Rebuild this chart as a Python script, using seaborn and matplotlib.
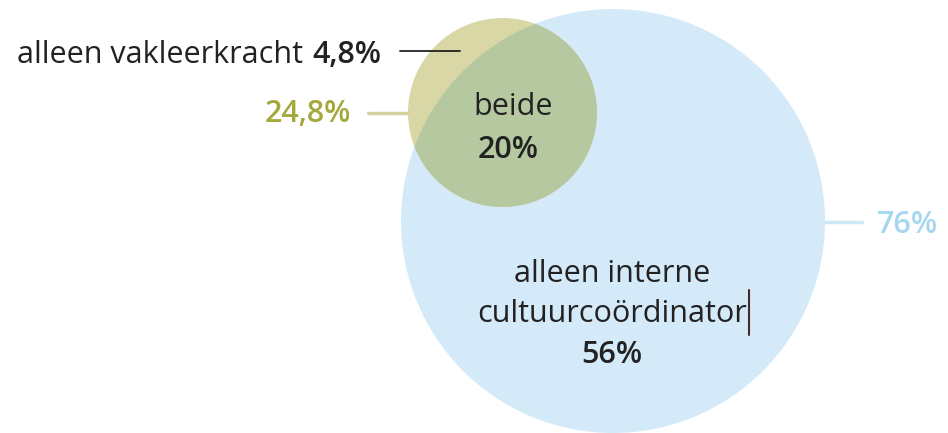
import matplotlib
matplotlib.use("Agg")
import matplotlib.pyplot as plt
from matplotlib.patches import Circle
import seaborn as sns

# Data
set_names = ["vakleerkracht", "interne cultuurcoördinator"]
set_totals = [24.8, 76]
region_labels = ["alleen vakleerkracht", "beide", "alleen interne", "cultuurcoördinator"]
region_values = [4.8, 20, 56]

def fmt(v):
    s = f"{v:g}".replace(".", ",")
    return s + "%"

sns.set_theme(style="white")
plt.rcParams['font.family'] = ['Open Sans', 'DejaVu Sans']

fig = plt.figure(figsize=(9.48, 4.33), dpi=100)
ax = fig.add_axes([0, 0, 1, 1])
ax.set_xlim(0, 948)
ax.set_ylim(433, 0)
ax.set_aspect('equal')
ax.axis('off')

blue = "#d4eaf8"
khaki = "#d9d7a5"
overlap = "#b5c8a0"
dark = "#222222"
bw = 'semibold'

big_c, big_r = (613, 221), 212
small_c, small_r = (502.5, 112.5), 94.5

ax.add_patch(Circle(big_c, big_r, facecolor=blue, edgecolor='none', zorder=1))
ax.add_patch(Circle(small_c, small_r, facecolor=khaki, edgecolor='none', zorder=2))
ov = Circle(small_c, small_r, facecolor=overlap, edgecolor='none', zorder=3)
ax.add_patch(ov)
ov.set_clip_path(Circle(big_c, big_r, transform=ax.transData))

fs = 22
# Left labels
ax.text(303, 63, region_labels[0], ha='right', va='baseline', fontsize=fs, color=dark)
ax.text(381, 63, fmt(region_values[0]), ha='right', va='baseline', fontsize=fs,
        color=dark, fontweight=bw)
ax.plot([400, 460], [51, 51], color=dark, lw=1.3, zorder=5)

ax.text(351, 122, fmt(set_totals[0]), ha='right', va='baseline', fontsize=fs,
        color="#a5a83a", fontweight=bw)
ax.plot([368, 410], [112.5, 112.5], color="#d4d39e", lw=2.5, zorder=0)

# Right label
ax.plot([822, 862], [222, 222], color="#cfe7f6", lw=2.5, zorder=0)
ax.text(877, 233, fmt(set_totals[1]), ha='left', va='baseline', fontsize=fs,
        color="#a6d6f0", fontweight=bw)

# Inner labels
ax.text(513, 115, region_labels[1], ha='center', va='baseline', fontsize=fs, color=dark, zorder=6)
ax.text(508, 158, fmt(region_values[1]), ha='center', va='baseline', fontsize=fs,
        color=dark, fontweight=bw, zorder=6)

ax.text(612, 282, region_labels[2], ha='center', va='baseline', fontsize=fs, color=dark, zorder=6)
ax.text(612, 322, region_labels[3], ha='center', va='baseline', fontsize=fs, color=dark, zorder=6)
ax.text(612, 363, fmt(region_values[2]), ha='center', va='baseline', fontsize=fs,
        color=dark, fontweight=bw, zorder=6)
ax.plot([749, 749], [290, 335], color="#4a2a22", lw=1.5, zorder=6)

fig.savefig("out.png", dpi=100)
